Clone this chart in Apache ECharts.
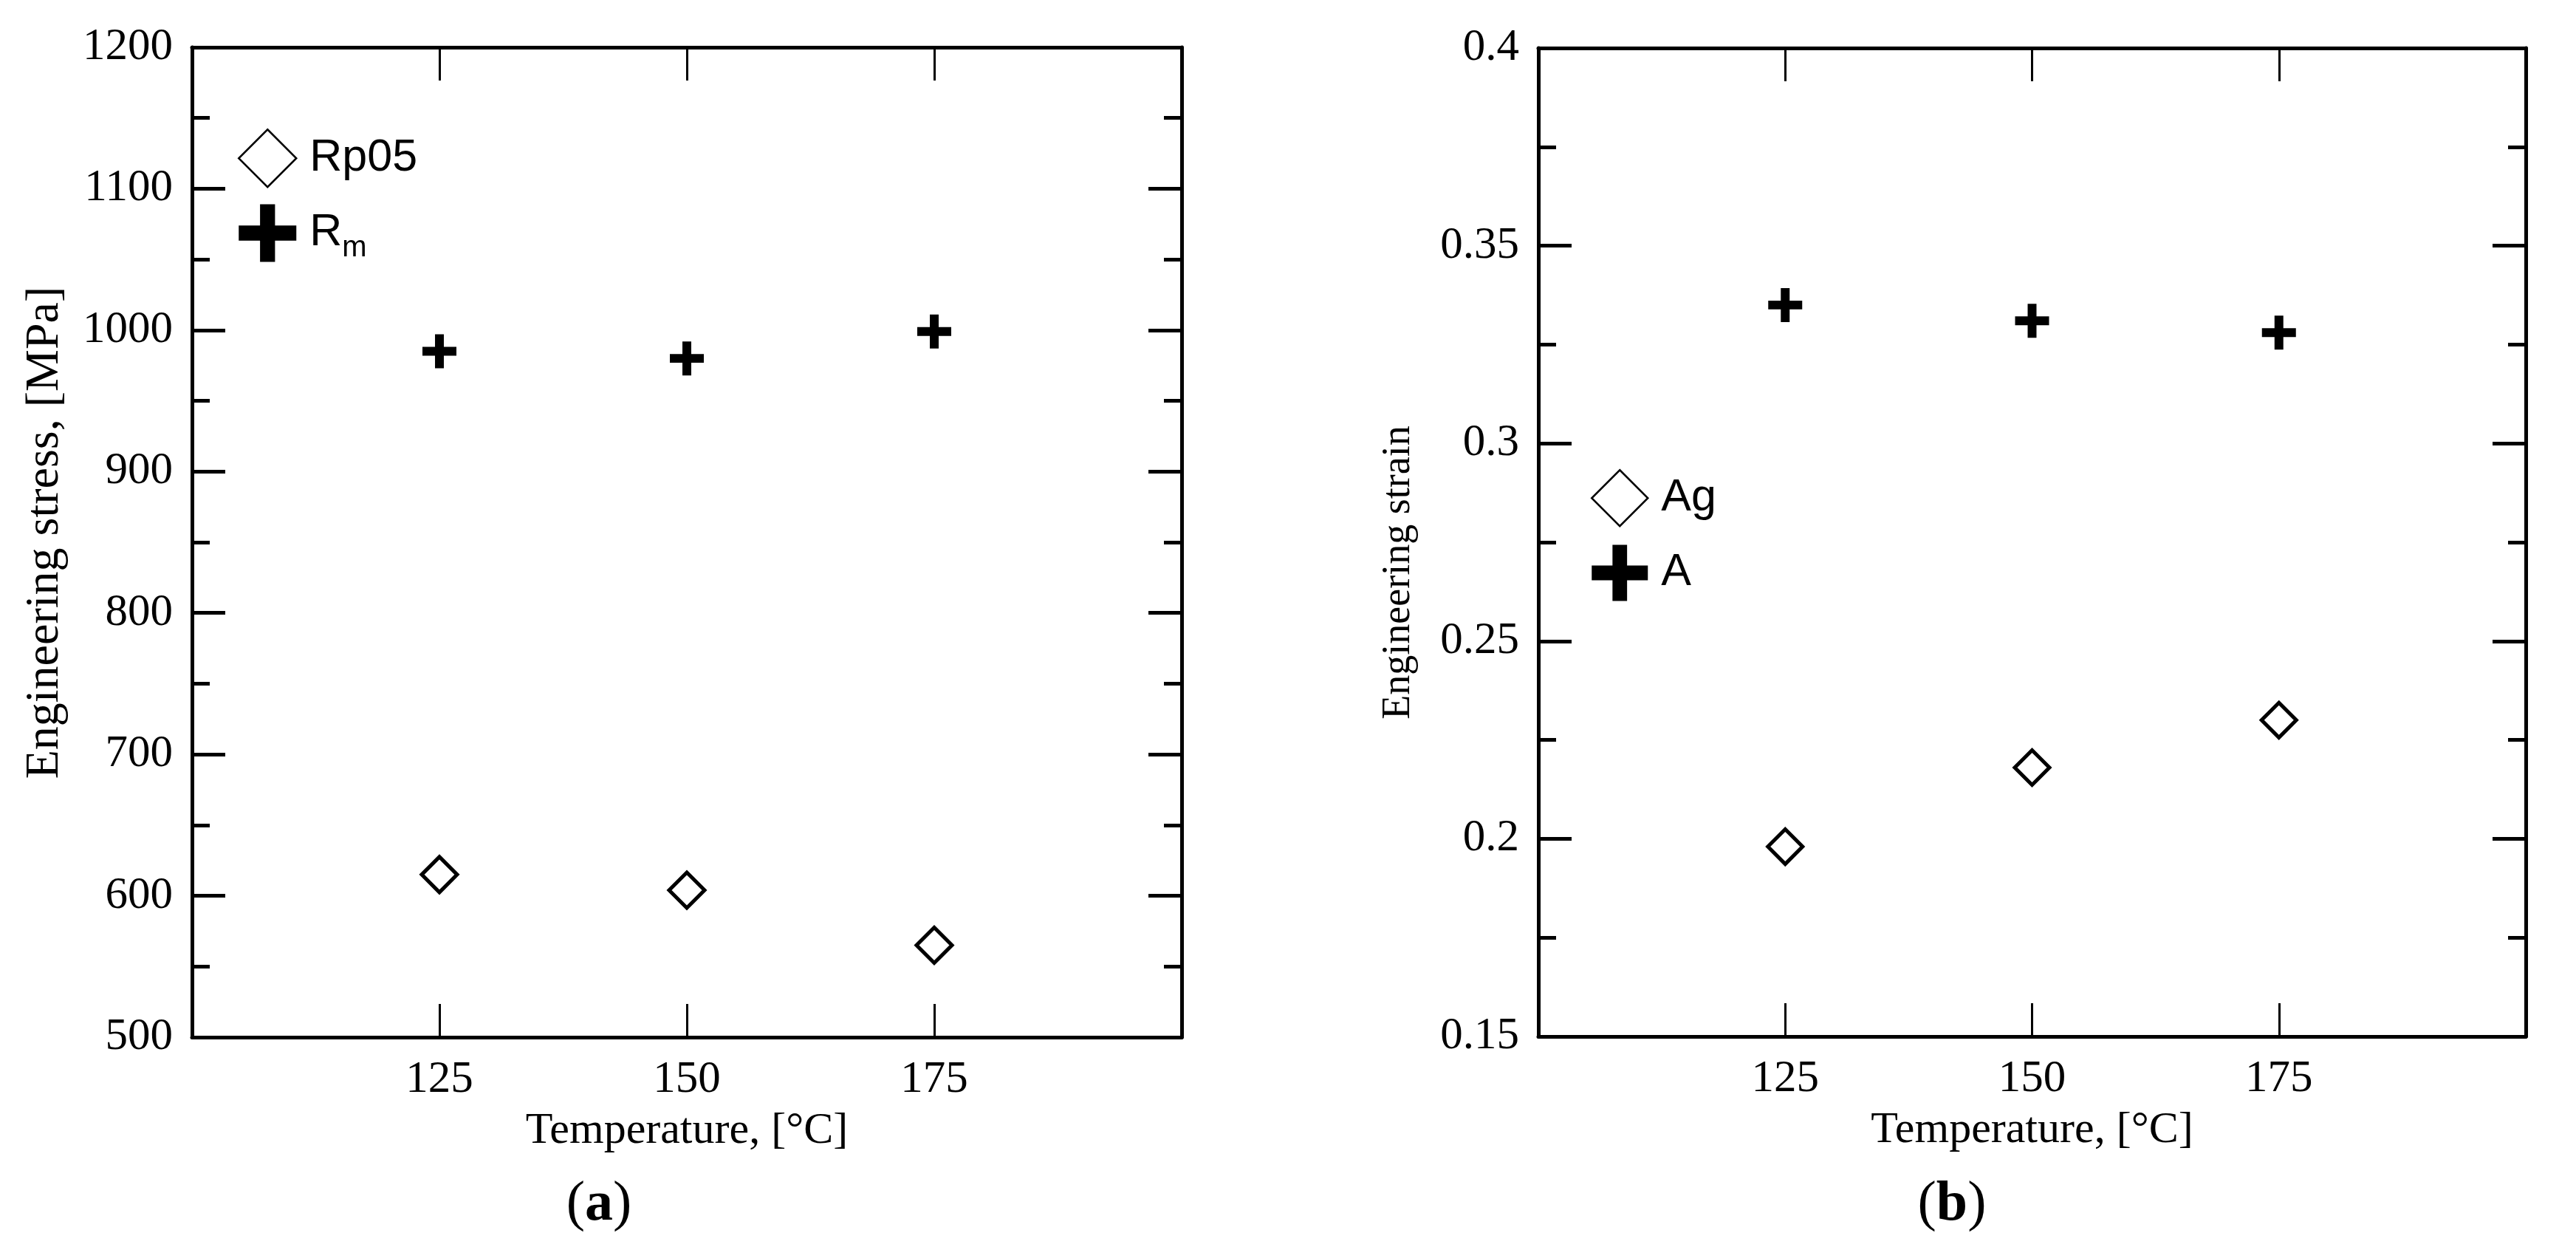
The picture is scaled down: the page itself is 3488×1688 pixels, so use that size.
<!DOCTYPE html>
<html><head><meta charset="utf-8">
<script src="https://cdn.jsdelivr.net/npm/echarts@6/dist/echarts.min.js"></script>
<style>html,body{margin:0;padding:0;background:#fff}#c{width:3488px;height:1688px}</style>
</head><body><div id="c"></div>
<script>
// ---- data ----
const temperatures = [125, 150, 175];
const rp05 = [615, 604, 565];          // MPa
const rm = [985, 980, 999];            // MPa
const ag = [0.198, 0.218, 0.230];      // strain
const aTotal = [0.335, 0.331, 0.328];  // strain
const xTickLabels = [125, 150, 175];
const xRange = [100, 200];
const stressTicks = [500, 600, 700, 800, 900, 1000, 1100, 1200];
const strainTicks = [0.15, 0.2, 0.25, 0.3, 0.35, 0.4];

const CROSS = 'path://M37,0H63V37H100V63H63V100H37V63H0V37H37Z';
const SERIF = 'Liberation Serif';
const SANS = 'Liberation Sans';

function pts(xs, ys) { return xs.map((x, i) => [x, ys[i]]); }
function fmtNum(v) { return String(Math.round(v * 10000) / 10000); }

const lineStyle = { color: '#000', width: 5 };

function xAxisDef(grid, pos, name) {
  return {
    type: 'value', gridIndex: grid, position: pos,
    min: xRange[0], max: xRange[1],
    name: name || '', nameLocation: 'middle', nameGap: 97,
    nameTextStyle: { fontFamily: SERIF, fontSize: 60, color: '#000' },
    axisLine: { show: true, onZero: false, lineStyle: lineStyle },
    axisTick: { show: true, inside: true, length: 45, customValues: xTickLabels, lineStyle: { color: '#000', width: 3 } },
    axisLabel: { show: pos === 'bottom', customValues: xTickLabels, formatter: fmtNum, fontFamily: SERIF, fontSize: 61, color: '#000', margin: 27 },
    splitLine: { show: false }
  };
}
function yAxisDef(grid, pos, ticks, name, gap, nameSize, namePad) {
  return {
    type: 'value', gridIndex: grid, position: pos,
    min: ticks[0], max: ticks[ticks.length - 1], interval: ticks[1] - ticks[0],
    name: name || '', nameLocation: 'middle', nameGap: gap || 0,
    nameTextStyle: { fontFamily: SERIF, fontSize: nameSize || 58, color: '#000', padding: namePad || 0 },
    axisLine: { show: true, onZero: false, lineStyle: lineStyle },
    axisTick: { show: true, inside: true, length: 45, lineStyle: { color: '#000', width: 5 } },
    minorTick: { show: true, splitNumber: 2, length: 24, lineStyle: { color: '#000', width: 5 } },
    axisLabel: { show: pos === 'left', formatter: fmtNum, fontFamily: SERIF, fontSize: 61, color: '#000', margin: 26 },
    splitLine: { show: false }, minorSplitLine: { show: false }
  };
}

const legendRich = {
  t: { fontFamily: SANS, fontSize: 61, color: '#000', padding: [0, 0, 0, 13] },
  s: { fontFamily: SANS, fontSize: 40, color: '#000', padding: [40, 0, 0, 0] }
};
function legendFmt(n) { return n === 'Rm' ? '{t|R}{s|m}' : '{t|' + n + '}'; }

const diamondStyle = { color: '#fff', borderColor: '#000', borderWidth: 5, opacity: 1 };
const crossStyle = { color: '#000', borderWidth: 0, opacity: 1 };

const option = {
  animation: false,
  backgroundColor: '#fff',
  grid: [
    { left: 260, top: 64, width: 1340, height: 1340 },
    { left: 2083, top: 65, width: 1337, height: 1338 }
  ],
  xAxis: [
    xAxisDef(0, 'bottom', 'Temperature, [°C]'),
    xAxisDef(0, 'top'),
    xAxisDef(1, 'bottom', 'Temperature, [°C]'),
    xAxisDef(1, 'top')
  ],
  yAxis: [
    yAxisDef(0, 'left', stressTicks, 'Engineering stress, [MPa]', 167, 64, [0, 0, 0, 26]),
    yAxisDef(0, 'right', stressTicks),
    yAxisDef(1, 'left', strainTicks, 'Engineering strain', 162, 54, [0, 82, 0, 0]),
    yAxisDef(1, 'right', strainTicks)
  ],
  legend: [
    {
      orient: 'vertical', left: 322, top: 174, padding: 0,
      itemWidth: 78, itemHeight: 78, itemGap: 22,
      data: [{ name: 'Rp05', itemStyle: { borderWidth: 2.5 } }, { name: 'Rm' }],
      formatter: legendFmt, textStyle: { rich: legendRich }
    },
    {
      orient: 'vertical', left: 2154, top: 635, padding: 0,
      itemWidth: 76, itemHeight: 76, itemGap: 24,
      data: [{ name: 'Ag', itemStyle: { borderWidth: 2.5 } }, { name: 'A' }],
      formatter: legendFmt, textStyle: { rich: legendRich }
    }
  ],
  graphic: [
    { type: 'text', x: 811, y: 1631, style: { text: '{p|(}{b|a}{p|)}', align: 'center', verticalAlign: 'middle',
      rich: { p: { fontFamily: SERIF, fontSize: 76, fill: '#000' }, b: { fontFamily: SERIF, fontSize: 76, fontWeight: 'bold', fill: '#000' } } } },
    { type: 'text', x: 2643, y: 1631, style: { text: '{p|(}{b|b}{p|)}', align: 'center', verticalAlign: 'middle',
      rich: { p: { fontFamily: SERIF, fontSize: 76, fill: '#000' }, b: { fontFamily: SERIF, fontSize: 76, fontWeight: 'bold', fill: '#000' } } } }
  ],
  series: [
    { name: 'Rp05', type: 'scatter', xAxisIndex: 0, yAxisIndex: 0, data: pts(temperatures, rp05),
      symbol: 'diamond', symbolSize: 48, itemStyle: diamondStyle },
    { name: 'Rm', type: 'scatter', xAxisIndex: 0, yAxisIndex: 0, data: pts(temperatures, rm),
      symbol: CROSS, symbolSize: 46, itemStyle: crossStyle },
    { name: 'Ag', type: 'scatter', xAxisIndex: 2, yAxisIndex: 2, data: pts(temperatures, ag),
      symbol: 'diamond', symbolSize: 47, itemStyle: diamondStyle },
    { name: 'A', type: 'scatter', xAxisIndex: 2, yAxisIndex: 2, data: pts(temperatures, aTotal),
      symbol: CROSS, symbolSize: 46, itemStyle: crossStyle }
  ]
};

const chart = echarts.init(document.getElementById('c'), null, { renderer: 'canvas' });
chart.setOption(option);
</script>
</body></html>
